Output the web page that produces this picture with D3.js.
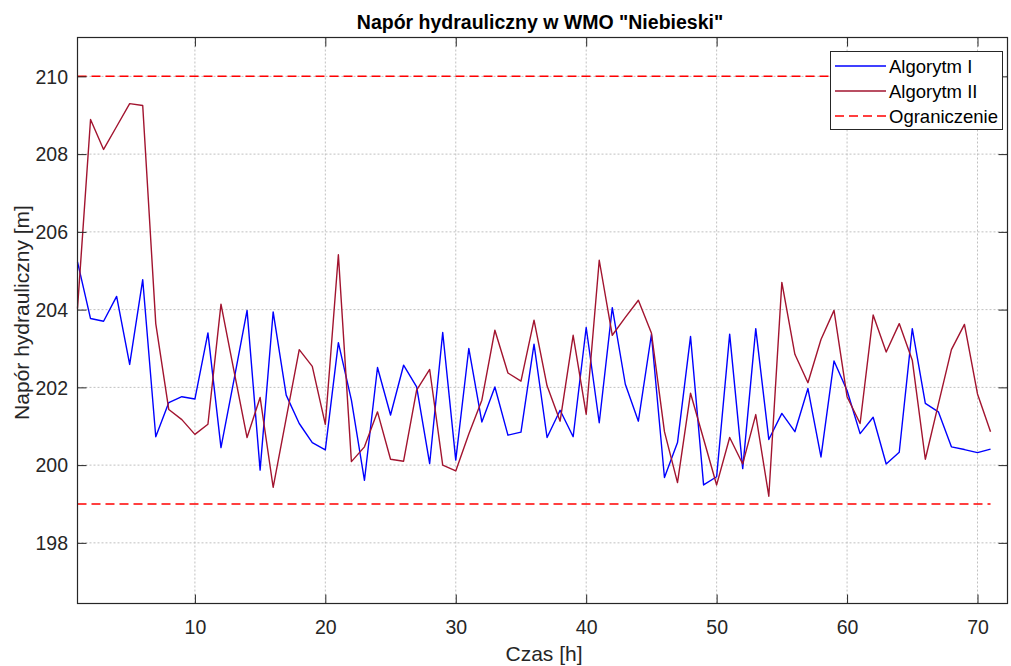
<!DOCTYPE html>
<html><head><meta charset="utf-8">
<script src="https://cdn.jsdelivr.net/npm/d3@7"></script>
<style>
body{margin:0;background:#fff;}
svg{display:block;font-family:"Liberation Sans",Arial,Helvetica,sans-serif;}
</style></head>
<body><svg id="chart" width="1011" height="666"></svg>
<script>
const hours = d3.range(1, 72);
const algorytmI = [205.23,203.77,203.70,204.34,202.59,204.77,200.73,201.61,201.76,201.70,
 203.40,200.45,202.20,203.98,199.87,203.94,201.80,201.07,200.58,200.39,
 203.15,201.67,199.61,202.51,201.29,202.57,202.01,200.04,203.41,200.13,
 203.00,201.11,202.01,200.77,200.85,203.11,200.71,201.41,200.73,203.54,
 201.09,204.05,202.08,201.13,203.36,199.68,200.58,203.31,199.49,199.70,
 203.37,199.91,203.51,200.66,201.33,200.86,201.97,200.21,202.68,201.92,
 200.81,201.23,200.03,200.33,203.51,201.59,201.37,200.47,200.40,200.32,200.41];
const algorytmII = [204.03,208.89,208.12,208.71,209.30,209.25,203.64,201.43,201.17,200.79,
 201.05,204.14,202.42,200.71,201.74,199.43,201.20,202.97,202.54,201.05,
 205.41,200.09,200.47,201.37,200.15,200.10,201.93,202.46,200.00,199.85,
 200.80,201.67,203.47,202.37,202.16,203.73,202.04,201.13,203.34,201.31,
 205.27,203.34,203.80,204.24,203.40,200.86,199.55,201.85,200.67,199.49,
 200.71,200.03,201.30,199.20,204.70,202.85,202.12,203.23,203.98,201.76,
 201.07,203.86,202.91,203.64,202.70,200.15,201.57,202.97,203.62,201.83,200.86];
const limitUpper = 210;
const limitLower = 199;
const xTicks = [10,20,30,40,50,60,70];
const yTicks = [198,200,202,204,206,208,210];
const legendLabels = ["Algorytm I","Algorytm II","Ograniczenie"];
const titleText = 'Napór hydrauliczny w WMO "Niebieski"';
const xLabel = "Czas [h]";
const yLabel = "Napór hydrauliczny [m]";

const svg = d3.select("#chart");
const L = 77.5, R = 1007.5, T = 37.5, B = 603.5;
const x = d3.scaleLinear().domain([1, 72.3]).range([L, R]);
const y = d3.scaleLinear().domain([196.44, 211]).range([B, T]);
const axisColor = "#262626";
const fontFam = '"Liberation Sans",Arial,sans-serif';

// grid
const grid = svg.append("g");
grid.selectAll(".gx").data(xTicks).join("line")
  .attr("x1", d => x(d)).attr("x2", d => x(d)).attr("y1", T).attr("y2", B)
  .attr("stroke", "#c0c0c0").attr("stroke-width", 1).attr("stroke-dasharray", "2,2");
grid.selectAll(".gy").data(yTicks).join("line")
  .attr("y1", d => y(d)).attr("y2", d => y(d)).attr("x1", L).attr("x2", R)
  .attr("stroke", "#c0c0c0").attr("stroke-width", 1).attr("stroke-dasharray", "2,2");

// limits
const limLine = d3.line().x(d => x(d[0])).y(d => y(d[1]));
[limitUpper, limitLower].forEach(v => {
  svg.append("path").datum([[1, v], [71, v]]).attr("d", limLine)
    .attr("fill", "none").attr("stroke", "#ff0000").attr("stroke-width", 1.5)
    .attr("stroke-dasharray", "9,5");
});

const line = d3.line().x((d, i) => x(hours[i])).y(d => y(d));
svg.append("path").datum(algorytmI).attr("d", line)
  .attr("fill", "none").attr("stroke", "#0000ff").attr("stroke-width", 1.4).attr("stroke-linejoin", "round");
svg.append("path").datum(algorytmII).attr("d", line)
  .attr("fill", "none").attr("stroke", "#a2142f").attr("stroke-width", 1.4).attr("stroke-linejoin", "round");

// axes
const tickLen = 9;
const xb = svg.append("g").attr("transform", `translate(0,${B})`)
  .call(d3.axisBottom(x).tickValues(xTicks).tickSizeInner(-tickLen).tickSizeOuter(0));
const xt = svg.append("g").attr("transform", `translate(0,${T})`)
  .call(d3.axisTop(x).tickValues(xTicks).tickSizeInner(-tickLen).tickSizeOuter(0).tickFormat(""));
const yl = svg.append("g").attr("transform", `translate(${L},0)`)
  .call(d3.axisLeft(y).tickValues(yTicks).tickSizeInner(-tickLen).tickSizeOuter(0));
const yr = svg.append("g").attr("transform", `translate(${R},0)`)
  .call(d3.axisRight(y).tickValues(yTicks).tickSizeInner(-tickLen).tickSizeOuter(0).tickFormat(""));
[xb, xt, yl, yr].forEach(g => {
  g.select(".domain").remove();
  g.selectAll("line").attr("stroke", axisColor);
  g.selectAll("text").attr("fill", axisColor).attr("font-size", 19.5).attr("font-family", fontFam);
});
xb.selectAll("text").attr("y", 30).attr("dy", null);
yl.selectAll("text").attr("x", -9.5).attr("dy", "0.35em");
svg.append("rect").attr("x", L).attr("y", T).attr("width", R - L).attr("height", B - T)
  .attr("fill", "none").attr("stroke", axisColor).attr("stroke-width", 1.2);

// titles
svg.append("text").attr("x", 540).attr("y", 29).attr("text-anchor", "middle")
  .attr("font-size", 19.5).attr("font-weight", "bold").attr("fill", "#000").text(titleText);
svg.append("text").attr("x", 544).attr("y", 661).attr("text-anchor", "middle")
  .attr("font-size", 21).attr("fill", axisColor).text(xLabel);
svg.append("text").attr("transform", `translate(29,${(T + B) / 2 - 8}) rotate(-90)`)
  .attr("text-anchor", "middle").attr("font-size", 21).attr("fill", axisColor).text(yLabel);

// legend
const lg = svg.append("g");
lg.append("rect").attr("x", 830.5).attr("y", 51.5).attr("width", 172).attr("height", 78)
  .attr("fill", "#fff").attr("stroke", axisColor).attr("stroke-width", 1);
const legendStyles = [
  {c: "#0000ff", dash: null},
  {c: "#a2142f", dash: null},
  {c: "#ff0000", dash: "9,5"}
];
legendLabels.forEach((lab, i) => {
  const yy = 66 + i * 25;
  const ln = lg.append("line").attr("x1", 835).attr("x2", 886).attr("y1", yy).attr("y2", yy)
    .attr("stroke", legendStyles[i].c).attr("stroke-width", 1.4);
  if (legendStyles[i].dash) ln.attr("stroke-dasharray", legendStyles[i].dash).attr("stroke-width", 1.5);
  lg.append("text").attr("x", 889).attr("y", yy + 6.5).attr("font-size", 18.5).attr("fill", "#000").text(lab);
});
</script></body></html>
